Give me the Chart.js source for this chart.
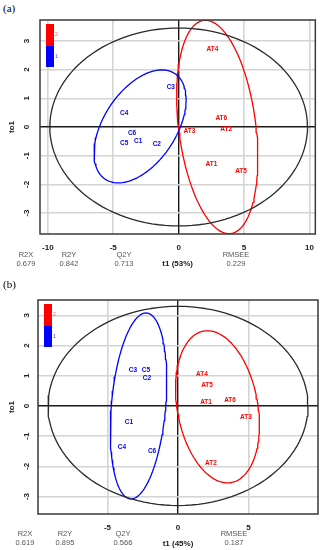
<!DOCTYPE html>
<html lang="en">
<head>
<meta charset="UTF-8">
<title>OPLS-DA score plots</title>
<script src="https://cdn.jsdelivr.net/npm/chart.js"></script>
<style>
  body { margin: 0; width: 323px; height: 550px; overflow: hidden; background: #fff; position: relative;
         font-family: "Liberation Sans", Arial, sans-serif; }
  .panel { position: absolute; left: 0; width: 323px; height: 275px; }
  .tag { position: absolute; left: 3px; font-family: "Liberation Serif", serif; font-size: 11px; color: #000; }
  .stat { position: absolute; width: 40px; margin-left: -20px; text-align: center;
          font-size: 7.5px; line-height: 8.5px; color: #555; }
</style>
</head>
<body>
<div class="tag" style="top:2px">(a)</div>
<div class="panel" id="panelA" style="top:0"><canvas id="chartA" width="323" height="275"></canvas></div>
<div class="tag" style="top:278px">(b)</div>
<div class="panel" id="panelB" style="top:280px"><canvas id="chartB" width="323" height="275"></canvas></div>

<script>
// sample labels
const controlNames = ["C1", "C2", "C3", "C4", "C5", "C6"];
const treatedNames = ["AT1", "AT2", "AT3", "AT4", "AT5", "AT6"];

// (a) scores: t1 (predictive) and to1 (orthogonal)
const controlT1A  = [-3.10, -1.67, -0.60, -4.17, -4.17, -3.56];
const controlTo1A = [-0.49, -0.59,  1.40,  0.49, -0.56, -0.21];
const treatedT1A  = [ 2.50,  3.64,  0.83,  2.58,  4.77,  3.26];
const treatedTo1A = [-1.29, -0.07, -0.14,  2.72, -1.53,  0.31];

// (b) scores
const controlT1B  = [-3.48, -2.20, -3.19, -3.97, -2.27, -1.84];
const controlTo1B = [-0.53,  0.93,  1.19, -1.36,  1.19, -1.49];
const treatedT1B  = [ 1.99,  2.34,  4.82,  1.70,  2.06,  3.69];
const treatedTo1B = [ 0.13, -1.89, -0.36,  1.06,  0.70,  0.20];

// ellipses: [centre t1, centre to1, t1 cos-term, t1 sin-term, to1 sin-term]
const hotellingA = [0, 0, 9.85, 0, 3.45];
const controlEllA = [-2.95, 0.02, 3.10, 1.67, 1.97];
const treatedEllA = [2.95, 0, 2.97, -0.90, 3.72];
const hotellingB = [0, 0, 9.22, 0, 3.30];
const controlEllB = [-2.80, 0, 1.93, 0.53, 3.08];
const treatedEllB = [2.80, -0.03, 2.89, -0.71, 2.52];

// axis ranges
const xRangeA = [-10.6, 10.45], yRangeA = [-3.73, 3.73];
const xRangeB = [-9.93, 9.93],  yRangeB = [-3.58, 3.51];

// model statistics
const statNames = ["R2X", "R2Y", "Q2Y", "RMSEE"];
const statsA = ["0.679", "0.842", "0.713", "0.229"];
const statsB = ["0.619", "0.895", "0.566", "0.187"];
const varianceA = 53, varianceB = 45;

const BLUE = "#0000ff", RED = "#ff0000";
const FONT = '"Liberation Sans", Arial, sans-serif';

function toPoints(xs, ys) {
    return xs.map((x, i) => ({ x: x, y: ys[i] }));
}

function ellipsePoints(p) {
    let pts = [];
    for (let i = 0; i <= 120; i++) {
        let t = i / 120 * 2 * Math.PI;
        pts.push({ x: p[0] + p[2] * Math.cos(t) + p[3] * Math.sin(t), y: p[1] + p[4] * Math.sin(t) });
    }
    return pts;
}

function ellipseSet(p, color) {
    return { data: ellipsePoints(p), showLine: true, borderColor: color, borderWidth: 1.3,
             borderCapStyle: "round", borderJoinStyle: "round",
             pointRadius: 0, fill: false, tension: 0 };
}

// frame, class key and sample names
const scorePlugin = {
    id: "scoreMarks",
    afterDatasetsDraw(chart) {
        const ctx = chart.ctx, a = chart.chartArea;
        ctx.save();
        ctx.strokeStyle = "#3a3a3a";
        ctx.lineWidth = 1.5;
        ctx.strokeRect(a.left, a.top, a.right - a.left, a.bottom - a.top);

        ctx.font = "bold 6.5px " + FONT;
        ctx.textAlign = "center";
        ctx.textBaseline = "middle";
        chart.data.datasets.forEach((ds, i) => {
            if (!ds.names) return;
            ctx.fillStyle = ds.textColor;
            chart.getDatasetMeta(i).data.forEach((pt, j) => ctx.fillText(ds.names[j], pt.x, pt.y));
        });

        // colour key
        ctx.fillStyle = RED;
        ctx.fillRect(a.left + 6, a.top + 4, 8, 22);
        ctx.fillStyle = BLUE;
        ctx.fillRect(a.left + 6, a.top + 26, 8, 21);
        ctx.font = "5px " + FONT;
        ctx.textAlign = "left";
        ctx.fillStyle = "#ff5555";
        ctx.fillText("2", a.left + 15, a.top + 15);
        ctx.fillStyle = "#3333ff";
        ctx.fillText("1", a.left + 15, a.top + 37);
        ctx.restore();
    }
};

function gridColor(c) { return c.tick && c.tick.value === 0 ? "#1a1a1a" : "#d4d4d4"; }
function gridWidth(c) { return c.tick && c.tick.value === 0 ? 1.4 : 1.6; }

function makeChart(id, cT1, cTo1, tT1, tTo1, hot, cEll, tEll, xr, yr, variance, yWidth, yPad) {
    let ctx = document.getElementById(id).getContext("2d");
    return new Chart(ctx, {
        type: "scatter",
        data: {
            datasets: [
                ellipseSet(hot, "#2a2a2a"),
                ellipseSet(cEll, BLUE),
                ellipseSet(tEll, RED),
                { data: toPoints(cT1, cTo1), names: controlNames, textColor: BLUE, pointRadius: 0 },
                { data: toPoints(tT1, tTo1), names: treatedNames, textColor: RED, pointRadius: 0 }
            ]
        },
        options: {
            responsive: false,
            animation: false,
            layout: { padding: { top: 20, right: 5, left: 0, bottom: 0 } },
            plugins: { legend: { display: false }, tooltip: { enabled: false } },
            scales: {
                x: {
                    type: "linear", min: xr[0], max: xr[1],
                    ticks: { stepSize: 5, includeBounds: false, padding: 9, color: "#222",
                             font: { family: FONT, size: 8, weight: "bold" } },
                    grid: { color: gridColor, lineWidth: gridWidth, drawTicks: false },
                    border: { display: false },
                    title: { display: true, text: "t1 (" + variance + "%)", color: "#222",
                             font: { family: FONT, size: 8, weight: "bold" }, padding: { top: 0, bottom: 6 } },
                    afterFit: s => { s.height = 41; }
                },
                y: {
                    type: "linear", min: yr[0], max: yr[1],
                    ticks: { stepSize: 1, includeBounds: false, padding: yPad, minRotation: 90, maxRotation: 90,
                             crossAlign: "center", color: "#222",
                             font: { family: FONT, size: 8, weight: "bold" } },
                    grid: { color: gridColor, lineWidth: gridWidth, drawTicks: false },
                    border: { display: false },
                    title: { display: true, text: "to1", color: "#222",
                             font: { family: FONT, size: 8, weight: "bold" }, padding: { top: 7, bottom: 0 } },
                    afterFit: s => { s.width = yWidth; }
                }
            }
        },
        plugins: [scorePlugin]
    });
}

function addStats(panelId, values, centres, top) {
    let panel = document.getElementById(panelId);
    statNames.forEach((name, i) => {
        let d = document.createElement("div");
        d.className = "stat";
        d.style.left = centres[i] + "px";
        d.style.top = top + "px";
        d.innerHTML = name + "<br>" + values[i];
        panel.appendChild(d);
    });
}

document.addEventListener("DOMContentLoaded", () => {
    makeChart("chartA", controlT1A, controlTo1A, treatedT1A, treatedTo1A,
              hotellingA, controlEllA, treatedEllA, xRangeA, yRangeA, varianceA, 40, 10);
    makeChart("chartB", controlT1B, controlTo1B, treatedT1B, treatedTo1B,
              hotellingB, controlEllB, treatedEllB, xRangeB, yRangeB, varianceB, 38, 8);
    addStats("panelA", statsA, [26, 69, 124, 236], 251);
    addStats("panelB", statsB, [25, 65, 123, 234], 250);
});
</script>
</body>
</html>
